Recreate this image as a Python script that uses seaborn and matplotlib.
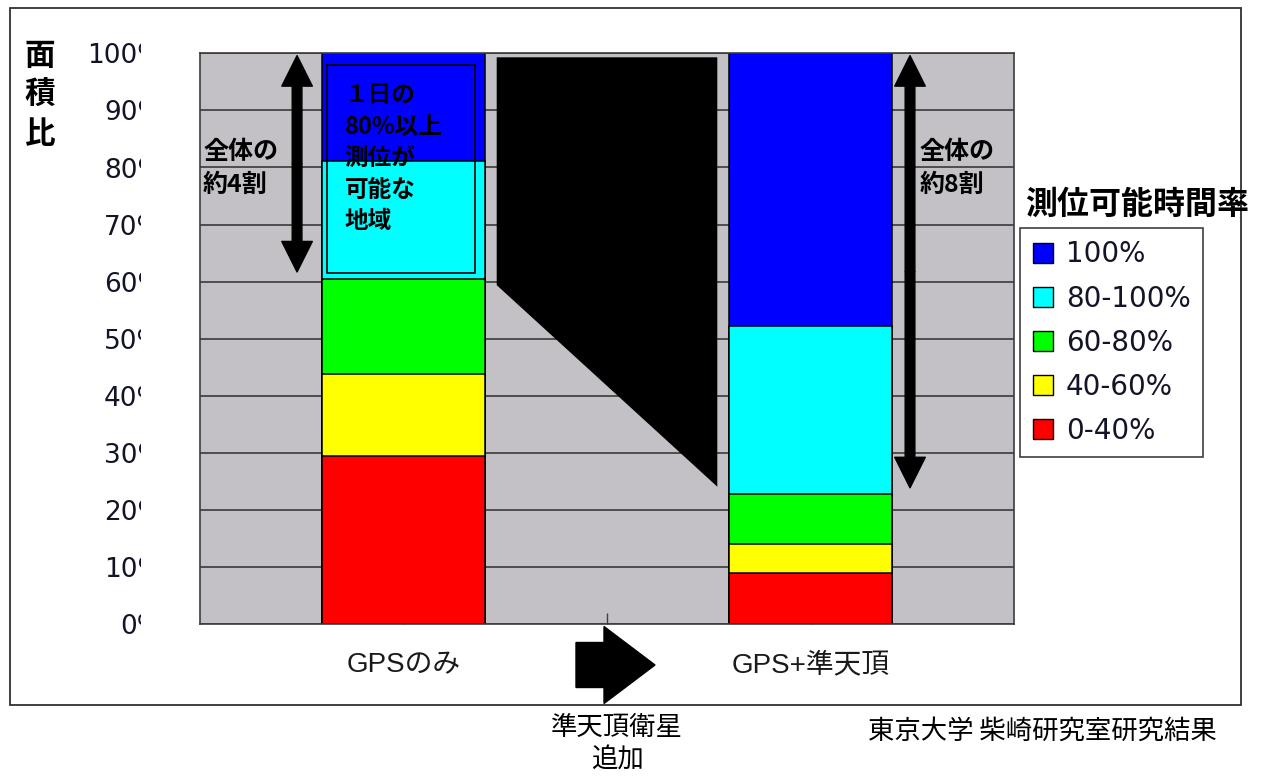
import matplotlib.pyplot as plt
import matplotlib.patches as patches
import matplotlib.transforms as mtransforms
import seaborn as sns
import numpy as np

# values (percent of area)
categories = ['GPSのみ', 'GPS+準天頂']
slots = ['GPSのみ', '追加', 'GPS+準天頂']  # middle slot left empty for the black arrow
share_100 = [18.9, 47.8]
share_80_100 = [20.7, 29.3]
share_60_80 = [16.6, 8.8]
share_40_60 = [14.3, 5.1]
share_0_40 = [29.5, 9.0]
legend_labels = ['100%', '80-100%', '60-80%', '40-60%', '0-40%']
colors = ['#0000FF', '#00FFFF', '#00FF00', '#FFFF00', '#FF0000']
yticks = list(range(0, 101, 10))
ytick_labels = [f'{v}%' for v in yticks]

jp = ['Noto Sans CJK JP', 'DejaVu Sans']

fig = plt.figure(figsize=(12.63, 7.76), dpi=100)
ax = fig.add_axes([200 / 1263, 151.7 / 776, 814 / 1263, 571 / 776])
ax.set_facecolor('#C4C1C6')
ax.set_axisbelow(True)

# stacked bars: draw cumulative totals from the top layer down
layers = [share_100, share_80_100, share_60_80, share_40_60, share_0_40]
bottom_up = np.array(layers[::-1])
tops = np.cumsum(bottom_up, axis=0)[::-1]
for top, c in zip(tops, colors):
    sns.barplot(x=categories, y=top, order=slots, color=c, saturation=1,
                width=0.8, edgecolor='black', linewidth=1.1, errorbar=None, ax=ax)

ax.set_xlim(-1, 3)
ax.set_ylim(0, 100)
ax.yaxis.grid(True, color='#3a3a3a', lw=1.2)
ax.xaxis.grid(False)
ax.set_yticks(yticks)
ax.set_yticklabels(ytick_labels, fontsize=19, color='#141428', family='DejaVu Sans')
ax.tick_params(axis='y', length=0, pad=27)
ax.set_xticks([0, 1, 2])
ax.set_xticklabels([categories[0], '', categories[1]], fontsize=20, color='#1a1a1a',
                   family=['Liberation Sans', 'Noto Sans CJK JP'])
ax.tick_params(axis='x', direction='in', length=8, width=1, color='#404040', pad=20)
ax.set_xlabel('')
ax.set_ylabel('')
for s in ax.spines.values():
    s.set_visible(True)
    s.set_color('#3c3c3c')
    s.set_linewidth(1.2)

# region where >=80% of the day is covered (bottom of the cyan layer)
region_base = tops[2]
half = 0.4
gap = 0.058

# black wedge between the bars
wedge = patches.Polygon([(0 + half + gap, 99.3), (2 - half - gap, 99.3),
                         (2 - half - gap, region_base[1] + 1.2),
                         (0 + half + gap, region_base[0] - 1.0)],
                        closed=True, facecolor='black', edgecolor='none', zorder=3)
ax.add_patch(wedge)

# inner box with text on the first bar
ax.add_patch(patches.Rectangle((-half + 0.025, region_base[0] + 1.1), 2 * half - 0.075,
                               97.9 - region_base[0] - 1.1, fill=False,
                               edgecolor='black', lw=1.2, zorder=3))
ax.text(-0.29, 94.8, '１日の\n80%以上\n測位が\n可能な\n地域', family=jp, fontsize=17,
        fontweight='bold', va='top', ha='left', linespacing=1.4, zorder=4)

# double-headed arrows
arrow_style = 'simple,head_width=22,head_length=22,tail_width=7'
for xa, yb in [(-half - 0.123, region_base[0] + 1.3), (2 + half + 0.089, region_base[1] + 1.0)]:
    mid = (99.6 + yb) / 2
    for end in (99.6, yb):
        ax.annotate('', xy=(xa, end), xytext=(xa, mid),
                    arrowprops=dict(arrowstyle=arrow_style, mutation_scale=1,
                                    color='black', shrinkA=0, shrinkB=0), zorder=4)

ax.text(-0.985, 84.8, '全体の\n約4割', family=jp, fontsize=18, fontweight='bold',
        va='top', ha='left', linespacing=1.45, zorder=4)
ax.text(2.535, 84.8, '全体の\n約8割', family=jp, fontsize=18, fontweight='bold',
        va='top', ha='left', linespacing=1.45, zorder=4)

# y-axis caption
fig.text(40 / 1263, 1 - 40 / 776, '面\n積\n比', family=jp, fontsize=22, fontweight='bold',
         ha='center', va='top', linespacing=1.28)

# legend
handles = [patches.Patch(facecolor=c, edgecolor='black', lw=1) for c in colors]
leg = ax.legend(handles, legend_labels, loc='upper left', bbox_to_anchor=(1020 / 1263, 1 - 228 / 776),
                bbox_transform=fig.transFigure, borderaxespad=0, fancybox=False, framealpha=1,
                edgecolor='#404040', prop={'family': 'DejaVu Sans', 'size': 20},
                handlelength=0.75, handleheight=0.75, handletextpad=0.45, labelspacing=0.58,
                borderpad=0.45)
leg.get_frame().set_linewidth(1.2)
for t in leg.get_texts():
    t.set_color('#141428')
fig.text(1025 / 1263, 1 - 205 / 776, '測位可能時間率', family=jp, fontsize=23,
         fontweight='bold', ha='left', va='center')

# bottom arrow between the categories
fig.patches.append(patches.FancyArrow(5.76, 1.11, 0.79, 0, width=0.45, head_width=0.77,
                                      head_length=0.51, length_includes_head=True,
                                      color='black', transform=fig.dpi_scale_trans, figure=fig))

# outer frame
fig.patches.append(patches.Rectangle((10 / 1263, 71 / 776), 1231 / 1263, 697 / 776, fill=False,
                                     edgecolor='#303030', lw=1.3, transform=fig.transFigure,
                                     figure=fig))

fig.text(617 / 1263, 1 - 714 / 776, '準天頂衛星\n追加', family=jp, fontsize=19,
         ha='center', va='top', linespacing=1.25)
fig.text(1042 / 1263, 1 - 731 / 776, '東京大学 柴崎研究室研究結果', family=jp, fontsize=19,
         ha='center', va='center')

# y tick labels are cut off at the left edge of the plot box in the reference
fig.canvas.draw()
clip = mtransforms.TransformedBbox(mtransforms.Bbox([[0, 0], [1.41, 7.76]]), fig.dpi_scale_trans)
for t in ax.get_yticklabels():
    t.set_clip_box(clip)
    t.set_clip_on(True)

fig.savefig('out.png', dpi=100)
